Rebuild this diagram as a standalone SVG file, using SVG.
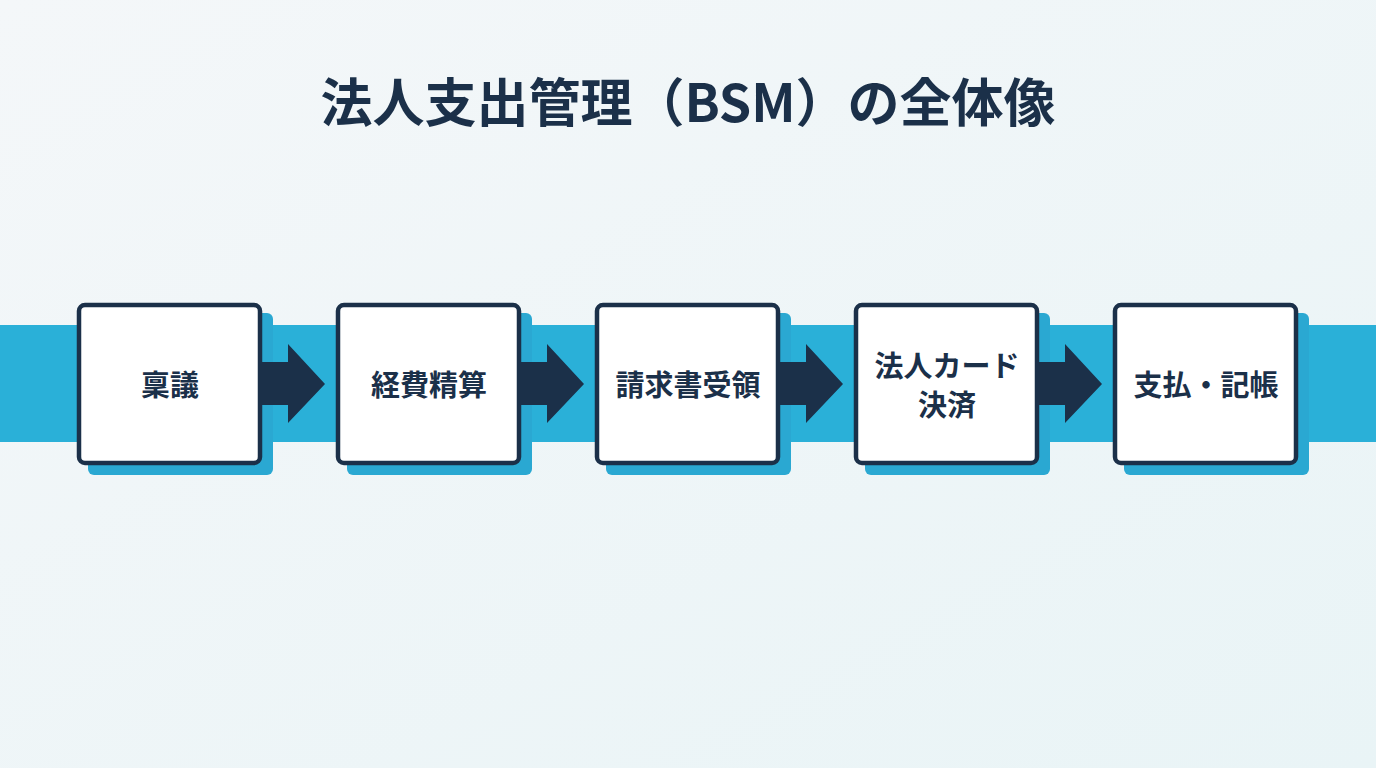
<svg xmlns="http://www.w3.org/2000/svg" width="1376" height="768" viewBox="0 0 1376 768">
<defs>
<linearGradient id="bg" x1="0" y1="0" x2="1" y2="1">
<stop offset="0" stop-color="#f4f7f9"/>
<stop offset="1" stop-color="#e9f4f6"/>
</linearGradient>
<style>
.shadow{fill:#2aa8d2}
.box{fill:#ffffff;stroke:#1b3049;stroke-width:4.5}
.lbl{font-family:"Noto Sans CJK JP","Noto Sans",sans-serif;font-weight:700;font-size:29px;fill:#1b3049;text-anchor:middle}
.arrow{fill:#1b3049}
.title{font-family:"Noto Sans CJK JP","Noto Sans",sans-serif;font-weight:700;font-size:52px;fill:#1b3049;text-anchor:middle}
</style>
</defs>
<rect width="1376" height="768" fill="url(#bg)"/>
<rect x="0" y="325" width="1376" height="117" fill="#2ab0d8"/>
<text class="title" x="688" y="122">法人支出管理（BSM）の全体像</text>
<g id="n1">
<rect class="shadow" x="88" y="313" width="185" height="162" rx="6"/>
<rect class="box" x="79" y="305" width="181" height="158" rx="6"/>
<text class="lbl" x="170" y="396">稟議</text>
</g>
<g id="n2">
<rect class="shadow" x="347" y="313" width="185" height="162" rx="6"/>
<rect class="box" x="338" y="305" width="181" height="158" rx="6"/>
<text class="lbl" x="429" y="396">経費精算</text>
</g>
<g id="n3">
<rect class="shadow" x="606" y="313" width="185" height="162" rx="6"/>
<rect class="box" x="597" y="305" width="181" height="158" rx="6"/>
<text class="lbl" x="688" y="396">請求書受領</text>
</g>
<g id="n4">
<rect class="shadow" x="865" y="313" width="185" height="162" rx="6"/>
<rect class="box" x="856" y="305" width="181" height="158" rx="6"/>
<text class="lbl" x="947" y="377">法人カード</text>
<text class="lbl" x="947" y="416">決済</text>
</g>
<g id="n5">
<rect class="shadow" x="1124" y="313" width="185" height="162" rx="6"/>
<rect class="box" x="1115" y="305" width="181" height="158" rx="6"/>
<text class="lbl" x="1206" y="396">支払・記帳</text>
</g>
<g id="connectors">
<path class="arrow" d="M262 362 H288 V344 L325 384 L288 423 V405 H262 Z"/>
<path class="arrow" d="M521 362 H547 V344 L584 384 L547 423 V405 H521 Z"/>
<path class="arrow" d="M780 362 H806 V344 L843 384 L806 423 V405 H780 Z"/>
<path class="arrow" d="M1039 362 H1065 V344 L1102 384 L1065 423 V405 H1039 Z"/>
</g>
</svg>
